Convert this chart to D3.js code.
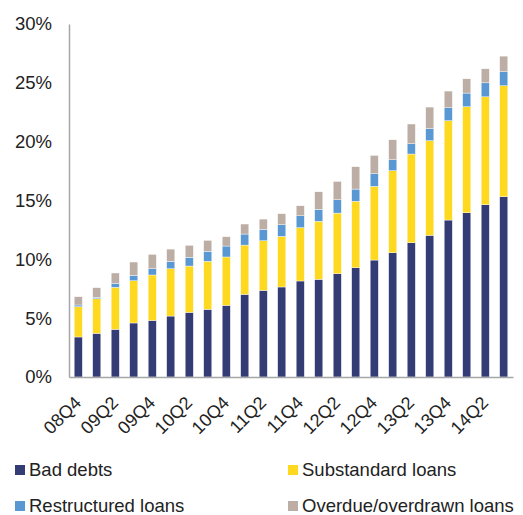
<!DOCTYPE html>
<html><head><meta charset="utf-8">
<script src="https://cdn.jsdelivr.net/npm/d3@7"></script>
<style>body{margin:0;background:#fff}svg{display:block}text{font-family:"Liberation Sans",Arial,sans-serif}</style>
</head><body><svg id="c" width="523" height="515"></svg>
<script>
const quarters = ["08Q4","09Q1","09Q2","09Q3","09Q4","10Q1","10Q2","10Q3","10Q4","11Q1","11Q2","11Q3","11Q4","12Q1","12Q2","12Q3","12Q4","13Q1","13Q2","13Q3","13Q4","14Q1","14Q2","14Q3"];
const badDebts =     [3.40,3.71,4.05,4.59,4.81,5.18,5.49,5.75,6.09,7.02,7.36,7.65,8.16,8.30,8.78,9.29,9.94,10.56,11.41,12.04,13.34,13.96,14.64,15.32];
const substandard =  [2.57,2.94,3.57,3.59,3.86,4.02,3.94,4.08,4.11,4.19,4.22,4.30,4.53,4.93,5.15,5.64,6.26,6.97,7.54,8.04,8.44,9.01,9.17,9.43];
const restructured = [0.15,0.12,0.34,0.46,0.53,0.63,0.74,0.85,0.93,0.94,0.97,0.99,1.01,1.02,1.13,1.04,1.07,0.93,0.87,1.02,1.10,1.16,1.19,1.19];
const overdue =      [0.70,0.82,0.88,1.13,1.22,1.04,1.02,0.93,0.79,0.85,0.87,0.94,0.85,1.49,1.56,1.90,1.56,1.70,1.68,1.84,1.42,1.21,1.19,1.33];
const seriesNames = ["Bad debts","Substandard loans","Restructured loans","Overdue/overdrawn loans"];
const colors = ["#333C74","#FFD820","#5A98D4","#BCAEA4"];
const yTicks = [0,5,10,15,20,25,30];

const svg = d3.select("#c");
const L=69, R=513, T=24, B=377;
const x = d3.scaleBand().domain(quarters).range([L,R]).paddingInner(0.56).paddingOuter(0.28);
const y = d3.scaleLinear().domain([0,30]).range([B,T]);

const rows = quarters.map((q,i)=>({q, s0:badDebts[i], s1:substandard[i], s2:restructured[i], s3:overdue[i]}));
const stack = d3.stack().keys(["s0","s1","s2","s3"])(rows);

svg.append("g").selectAll("g").data(stack).join("g")
  .attr("fill",(d,i)=>colors[i])
  .selectAll("rect").data(d=>d).join("rect")
  .attr("x",d=>x(d.data.q)).attr("width",x.bandwidth())
  .attr("y",d=>y(d[1])).attr("height",d=>y(d[0])-y(d[1]))
  .attr("stroke","#fff").attr("stroke-width",0.4);

// axes
const yAxis = svg.append("g").attr("transform",`translate(${L},0)`)
  .call(d3.axisLeft(y).tickValues(yTicks).tickSize(0).tickPadding(17).tickFormat(d=>d+"%"));
yAxis.select(".domain").attr("stroke","#A6A6A6").attr("stroke-width",1.5);
yAxis.selectAll("text").attr("font-size","18.5px").attr("fill","#222").attr("font-family","Liberation Sans, Arial");

const xAxis = svg.append("g").attr("transform",`translate(0,${B})`)
  .call(d3.axisBottom(x).tickSize(0).tickFormat((d,i)=> i%2===0 ? d : ""));
xAxis.select(".domain").attr("stroke","#A6A6A6").attr("stroke-width",1.5);
xAxis.selectAll("text").attr("font-size","18px").attr("fill","#222").attr("font-family","Liberation Sans, Arial")
  .attr("text-anchor","end").attr("y",0).attr("dy","0")
  .attr("transform","translate(4,27) rotate(-45)");

// legend
const legendPos = [[15,470],[288,470],[15,506],[288,506]];
const lg = svg.append("g").selectAll("g").data(seriesNames).join("g")
  .attr("transform",(d,i)=>`translate(${legendPos[i][0]},${legendPos[i][1]})`);
lg.append("rect").attr("x",0).attr("y",-5).attr("width",10).attr("height",10).attr("fill",(d,i)=>colors[i]);
lg.append("text").attr("x",14).attr("y",0).attr("dy","0.35em").attr("font-size","18.5px").attr("fill","#222").text(d=>d);
</script></body></html>
